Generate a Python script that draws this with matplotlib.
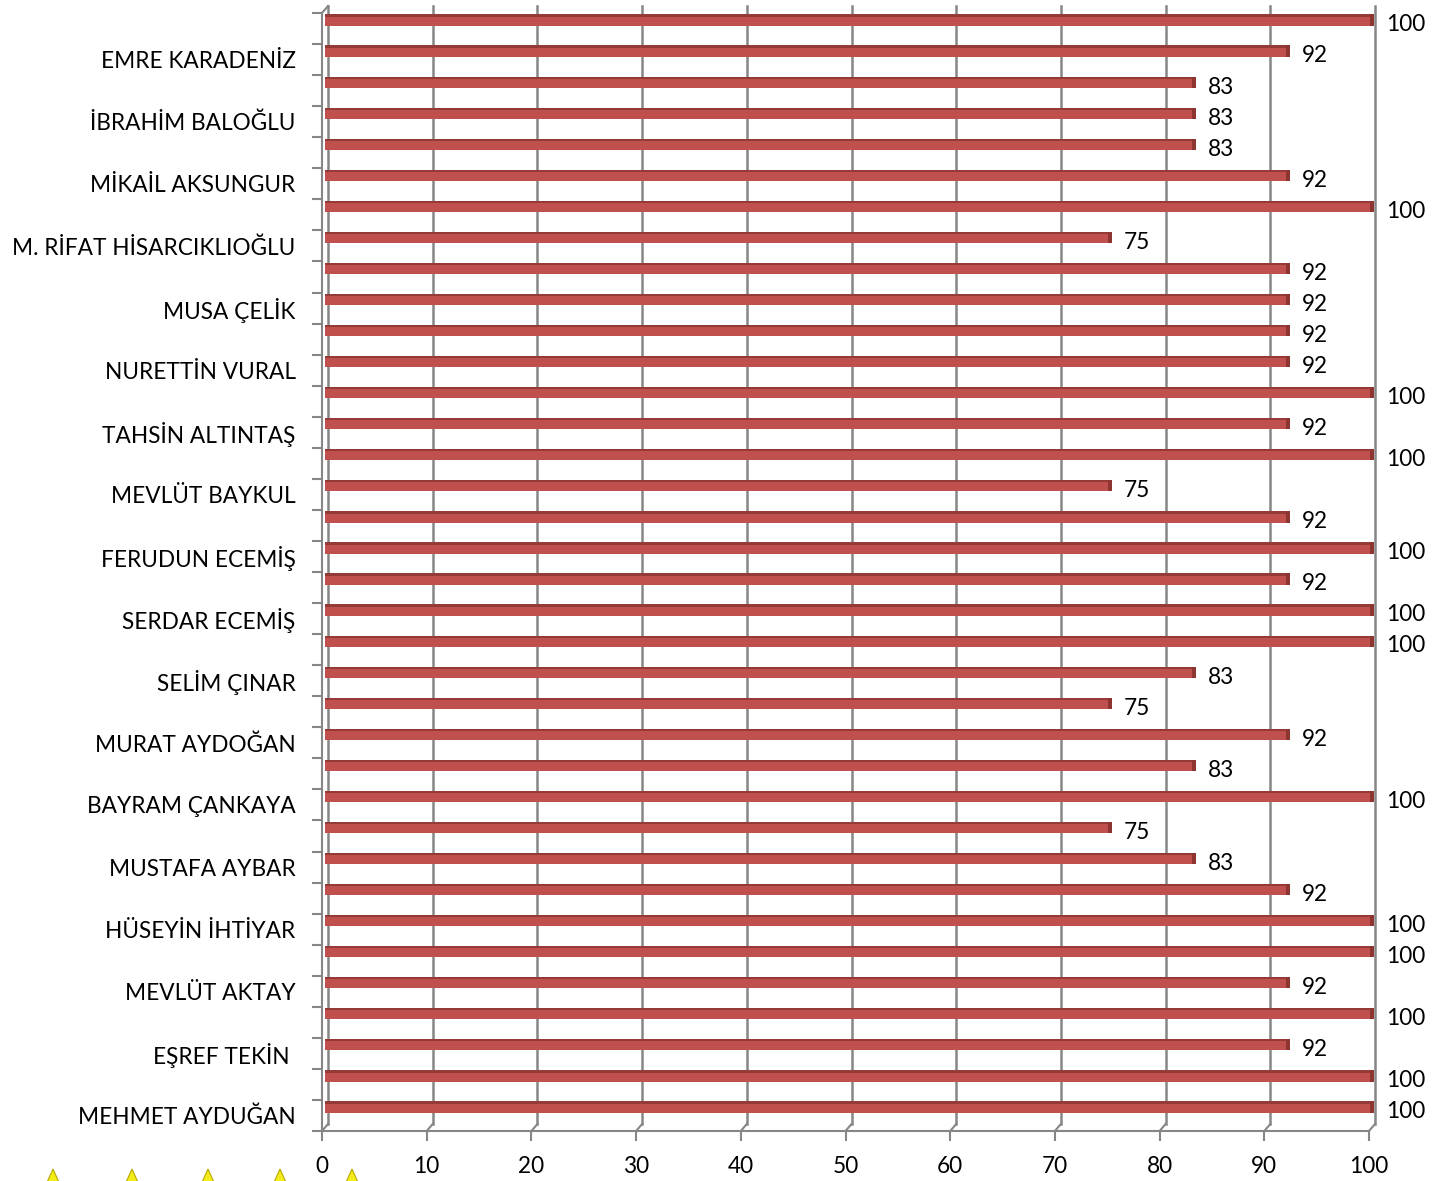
import numpy as np
import matplotlib
matplotlib.use("Agg")
import matplotlib.pyplot as plt
from matplotlib.patches import Polygon

plt.rcParams['font.family'] = ['Lato', 'DejaVu Sans']

# names shown on the axis (every second row, top to bottom)
names = ["EMRE KARADENİZ", "İBRAHİM BALOĞLU", "MİKAİL AKSUNGUR",
         "M. RİFAT HİSARCIKLIOĞLU", "MUSA ÇELİK", "NURETTİN VURAL",
         "TAHSİN ALTINTAŞ", "MEVLÜT BAYKUL", "FERUDUN ECEMİŞ",
         "SERDAR ECEMİŞ", "SELİM ÇINAR", "MURAT AYDOĞAN",
         "BAYRAM ÇANKAYA", "MUSTAFA AYBAR", "HÜSEYİN İHTİYAR",
         "MEVLÜT AKTAY", "EŞREF TEKİN ", "MEHMET AYDUĞAN"]

# bar values, top to bottom
scores = [100, 92, 83, 83, 83, 92, 100, 75, 92, 92, 92, 92,
          100, 92, 100, 75, 92, 100, 92, 100, 100, 83, 75, 92,
          83, 100, 75, 83, 92, 100, 100, 92, 100, 92, 100, 100]

x_ticks = [0, 10, 20, 30, 40, 50, 60, 70, 80, 90, 100]

W, H = 1433, 1181
fig = plt.figure(figsize=(W / 100, H / 100), dpi=100)
ax = fig.add_axes([322 / W, (H - 1131) / H, (1369 - 322) / W, (1131 - 13) / H])

n = len(scores)
pos = np.arange(n)[::-1]           # first item at the top
ax.set_xlim(0, 100)
ax.set_ylim(-0.5, n - 0.5)

# 3d depth, expressed in data units
px_x = 100 / (1369 - 322)
px_y = n / (1131 - 13)
dx, dy = 6 * px_x, 7 * px_y
bx, by = 3 * px_x, 8.5 * px_y      # bars sit in the middle of the depth

grid_col = '#868686'
# back wall gridlines and floor diagonals
for t in x_ticks:
    ax.plot([t + dx, t + dx], [-0.5 + dy, n - 0.5 + dy], color=grid_col, lw=1.8,
            clip_on=False, zorder=1)
    ax.plot([t, t + dx], [-0.5, -0.5 + dy], color=grid_col, lw=1.5,
            clip_on=False, zorder=1)
# left wall top edge
ax.plot([0, dx], [n - 0.5, n - 0.5 + dy], color=grid_col, lw=1.5, clip_on=False)

# bars
h = 0.36
ax.barh(pos + by, scores, height=h, left=bx, color='#C0504D', zorder=3, clip_on=False)
ax.barh(pos + by + h / 2 - 0.035, scores, height=0.07, left=bx,
        color='#943B38', zorder=4, clip_on=False)
ax.barh(pos + by, [0.35] * n, height=h, left=np.array(scores) + bx - 0.2,
        color='#8E3532', zorder=4, clip_on=False)

for p, v in zip(pos, scores):
    ax.annotate(str(v), (v + bx, p + by), xytext=(10, -3.5), textcoords='offset points',
                ha='left', va='center', fontsize=16.3, color='black', zorder=5,
                annotation_clip=False)

# axes styling
for s in ['top', 'right']:
    ax.spines[s].set_visible(False)
for s in ['left', 'bottom']:
    ax.spines[s].set_color(grid_col)
    ax.spines[s].set_linewidth(1.5)

ax.set_xticks(x_ticks)
ax.set_xticklabels([str(t) for t in x_ticks])
ax.tick_params(axis='x', direction='out', length=7, width=1.5, color=grid_col,
               pad=11, labelsize=16.3)

ax.set_yticks(pos[1::2])
ax.set_yticklabels(names)
ax.set_yticks(np.arange(-0.5, n, 1.0), minor=True)
ax.tick_params(axis='y', which='major', length=0, pad=19, labelsize=16.3)
ax.tick_params(axis='y', which='minor', direction='out', length=7, width=1.5,
               color=grid_col)

# yellow cones at the bottom-left edge
for cx in [53, 132, 208, 280, 352]:
    tip = (cx / W, (H - 1169) / H)
    left = ((cx - 9) / W, -8 / H)
    right = ((cx + 9) / W, -8 / H)
    fig.patches.append(Polygon([tip, left, right], closed=True, transform=fig.transFigure,
                               facecolor='#F2EC1A', edgecolor='#B8A800', lw=0.8))

fig.savefig('out.png', dpi=100)
